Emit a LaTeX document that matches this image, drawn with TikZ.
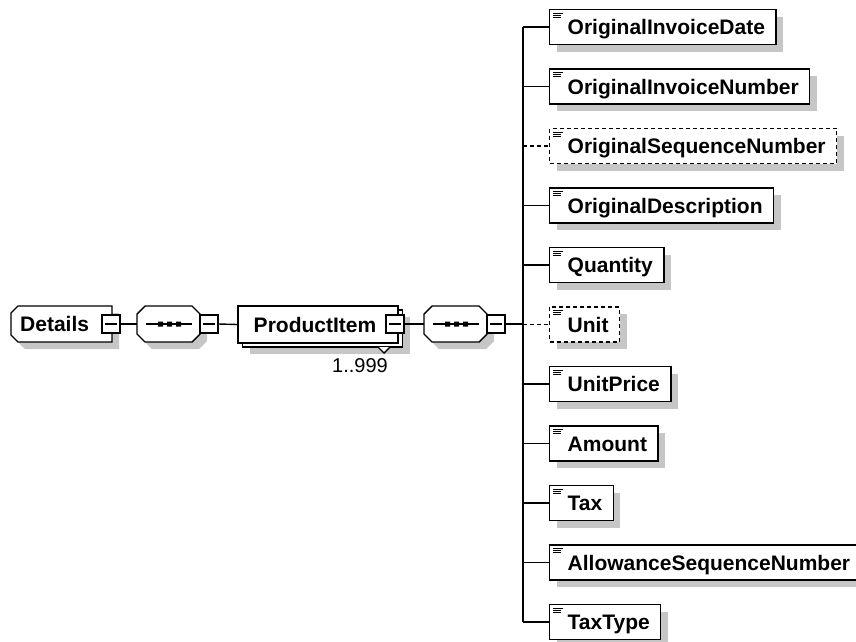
\documentclass[tikz,border=0pt]{standalone}
\usepackage{fontspec}
\setmainfont{Liberation Sans}
\usetikzlibrary{shadows}
\definecolor{shgray}{RGB}{198,198,198}
\newcommand\seqshape[1]{%
 \begin{scope}[shift={(#1,0)}]
  \fill[shgray] (7,321) -- (15,313) -- (62,313) -- (70,321) -- (70,341) -- (62,349) -- (15,349) -- (7,341) -- cycle;
  \draw[boxline, fill=white] (0,314) -- (8,306) -- (55,306) -- (63,314) -- (63,334) -- (55,342) -- (8,342) -- (0,334) -- cycle;
  \draw[conn] (9,324) -- (55,324);
  \fill (21,321.5) rectangle +(5,5) (30,321.5) rectangle +(5,5) (39,321.5) rectangle +(5,5);
 \end{scope}}
\newcommand\elname[1]{\hspace*{7pt}#1}
\begin{document}
\begin{tikzpicture}[x=1pt,y=-1pt,
  boxline/.style={line width=1.4pt, line join=miter},
  conn/.style={line width=1.4pt},
  shad/.style={drop shadow={shadow xshift=7pt, shadow yshift=-7pt, opacity=1, fill=shgray, draw=none}},
  lbl/.style={font=\fontsize{21}{24}\selectfont\bfseries, text height=15pt, text depth=0pt},
  elem/.style={boxline, draw, fill=white, shad, rectangle, anchor=west, minimum height=35pt,
    inner ysep=0pt, inner xsep=11pt, lbl,
    path picture={\draw[solid, line width=1pt]
      ([shift={(3.5,3.5)}]path picture bounding box.north west) -- +(10,0)
      ([shift={(3.5,5.7)}]path picture bounding box.north west) -- +(7.5,0)
      ([shift={(3.5,7.9)}]path picture bounding box.north west) -- +(7.5,0);}},
  opt/.style={dash pattern=on 4pt off 3pt},
  minus/.style={boxline, draw, fill=white, rectangle, minimum size=18pt, inner sep=0pt,
    path picture={\draw[solid, line width=1.2pt]
      ([xshift=3pt]path picture bounding box.west) -- ([xshift=-3pt]path picture bounding box.east);}},
]
\useasboundingbox (0,0) rectangle (856,641);

% Details
\fill[shgray] (25,313) -- (119,313) -- (119,349) -- (25,349) -- (18,342) -- (18,320) -- cycle;
\draw[boxline, fill=white] (18,306) -- (112,306) -- (112,342) -- (18,342) -- (11,335) -- (11,313) -- cycle;
\node[lbl, anchor=west, inner sep=0pt] (det) at (20,324) {Details};
\node[minus] (dm) at (111,324) {};

% first sequence
\seqshape{137}
\coordinate (s1) at (137,324);
\node[minus] (s1m) at (209,324) {};

% ProductItem
\node[boxline, draw, fill=white, shad, minimum width=160pt, minimum height=37pt, inner sep=0pt] (pib) at (322.5,328.5) {};
\draw[boxline, fill=white] (378,347) -- (384,353) -- (390,347);
\node[boxline, draw, fill=white, lbl, minimum width=160pt, minimum height=37pt, inner sep=0pt] (pi) at (318,324.5) {\hspace*{-6pt}ProductItem};
\node[minus] (pm) at (395,324) {};
\node[font=\fontsize{20}{22}\selectfont, inner sep=0pt] (occ) at (360,366) {1..999};

% second sequence
\seqshape{424}
\coordinate (s2) at (424,324);
\node[minus] (s2m) at (496,324) {};
\coordinate (j) at (523,324);

% children
\node[elem] (c1) at (549,27) {\elname{OriginalInvoiceDate}};
\node[elem] (c2) at (549,86.5) {\elname{OriginalInvoiceNumber}};
\node[elem, opt] (c3) at (549,146) {\elname{OriginalSequenceNumber}};
\node[elem] (c4) at (549,205.5) {\elname{OriginalDescription}};
\node[elem] (c5) at (549,265) {\elname{Quantity}};
\node[elem, opt] (c6) at (549,324.5) {\elname{Unit}};
\node[elem] (c7) at (549,384) {\elname{UnitPrice}};
\node[elem] (c8) at (549,443.5) {\elname{Amount}};
\node[elem] (c9) at (549,503) {\elname{Tax}};
\node[elem] (c10) at (549,562.5) {\elname{AllowanceSequenceNumber}};
\node[elem] (c11) at (549,622) {\elname{TaxType}};

% connectors
\draw[conn] (dm.east) -- (s1);
\draw[conn] (s1m.east) -- (pi.west);
\draw[conn] (pm.east) -- (s2);
\draw[conn] (s2m.east) -- (j);
\draw[conn] (j |- c1.west) -- (j |- c11.west);
\foreach \c in {c1,c2,c4,c5,c7,c8,c9,c10,c11}
  \draw[conn] (j |- \c.west) -- (\c.west);
\foreach \c in {c3,c6}
  \draw[conn, opt] (j |- \c.west) -- (\c.west);
\end{tikzpicture}
\end{document}
